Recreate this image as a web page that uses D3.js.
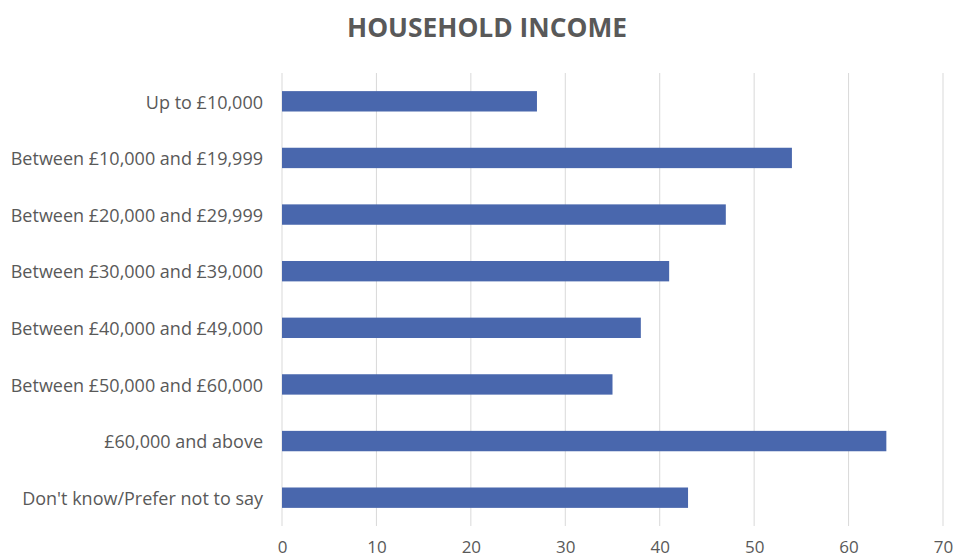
<!DOCTYPE html>
<html>
<head>
<meta charset="utf-8">
<script src="https://cdn.jsdelivr.net/npm/d3@7"></script>
<style>
  html, body { margin: 0; padding: 0; background: #ffffff; }
  svg { display: block; }
</style>
</head>
<body>
<svg id="chart" width="955" height="560"></svg>
<script>
// Household income bands and respondent counts
const categories = [
  "Up to £10,000",
  "Between £10,000 and £19,999",
  "Between £20,000 and £29,999",
  "Between £30,000 and £39,000",
  "Between £40,000 and £49,000",
  "Between £50,000 and £60,000",
  "£60,000 and above",
  "Don't know/Prefer not to say"
];
const counts = [27, 54, 47, 41, 38, 35, 64, 43];
const xTicks = [0, 10, 20, 30, 40, 50, 60, 70];
const title = "HOUSEHOLD INCOME";

const svg = d3.select("#chart");
const margin = { top: 73, right: 12, bottom: 34, left: 282 };
const width = 955, height = 560;
const plotBottom = 526;
const textColor = "#595959";
const font = "'Open Sans', 'Noto Sans', sans-serif";

const x = d3.scaleLinear().domain([0, 70]).range([margin.left, 943]);
const y = d3.scaleBand().domain(categories).range([margin.top, plotBottom]).paddingInner(0.64).paddingOuter(0.32);

// Title
svg.append("text")
  .attr("x", 487).attr("y", 37)
  .attr("text-anchor", "middle")
  .attr("font-family", font)
  .attr("font-weight", "bold")
  .attr("font-size", 26)
  .attr("fill", textColor)
  .attr("textLength", 280)
  .attr("lengthAdjust", "spacingAndGlyphs")
  .text(title);

// Vertical gridlines
svg.append("g")
  .selectAll("line")
  .data(xTicks)
  .join("line")
  .attr("x1", d => x(d)).attr("x2", d => x(d))
  .attr("y1", margin.top).attr("y2", plotBottom)
  .attr("stroke", "#d9d9d9")
  .attr("stroke-width", 1);

// Bars
svg.append("g")
  .selectAll("rect")
  .data(categories)
  .join("rect")
  .attr("x", x(0))
  .attr("y", d => y(d))
  .attr("width", (d, i) => x(counts[i]) - x(0))
  .attr("height", y.bandwidth())
  .attr("fill", "#4967ad");

// X axis labels
const xAxis = d3.axisBottom(x).tickValues(xTicks).tickSize(0).tickPadding(0);
const gx = svg.append("g").attr("transform", `translate(0,541)`).call(xAxis);
gx.select(".domain").remove();
gx.selectAll("text")
  .attr("font-family", font)
  .attr("font-size", 17)
  .attr("fill", textColor);

// Category labels
const yAxis = d3.axisLeft(y).tickSize(0).tickPadding(19);
const gy = svg.append("g").attr("transform", `translate(${margin.left},0)`).call(yAxis);
gy.select(".domain").remove();
gy.selectAll("text")
  .attr("font-family", font)
  .attr("font-size", 18)
  .attr("dy", "0.4em")
  .attr("fill", textColor);
</script>
</body>
</html>
